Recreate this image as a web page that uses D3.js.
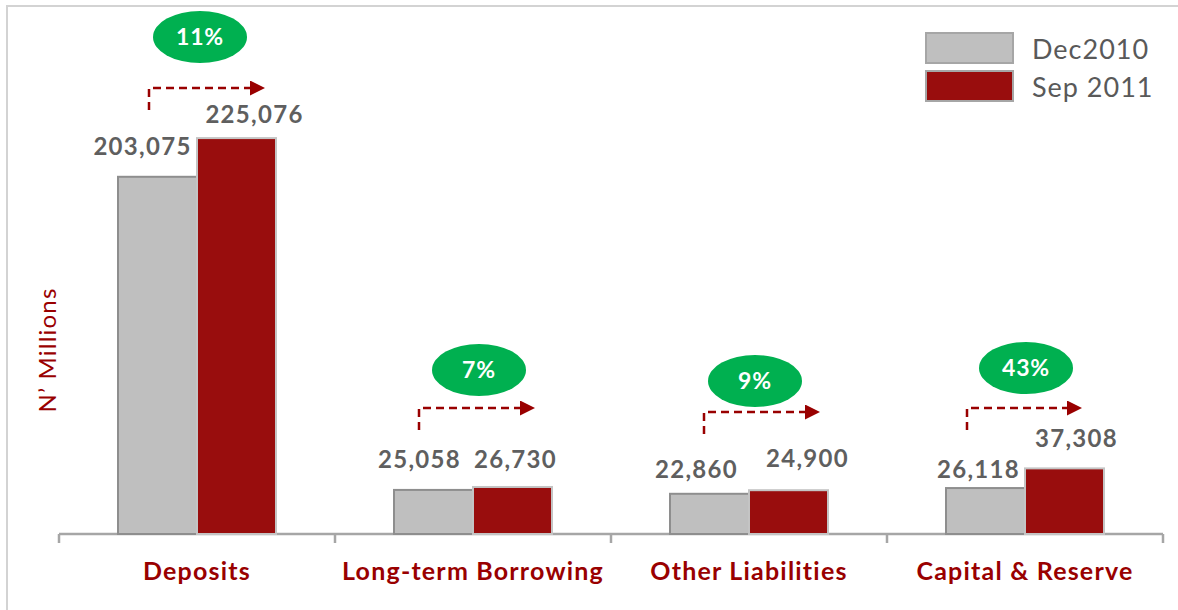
<!DOCTYPE html>
<html>
<head>
<meta charset="utf-8">
<script src="https://cdn.jsdelivr.net/npm/d3@7"></script>
<style>
  body { margin: 0; background: #fff; }
  svg { display: block; }
</style>
</head>
<body>
<div id="chart"></div>
<script>
const width = 1178;
const height = 610;

const categories = ["Deposits", "Long-term Borrowing", "Other Liabilities", "Capital & Reserve"];
const seriesNames = ["Dec2010", "Sep 2011"];
const dec2010 = [203075, 25058, 22860, 26118];
const sep2011 = [225076, 26730, 24900, 37308];
const growthLabels = ["11%", "7%", "9%", "43%"];

// hand placed nudges for labels and call-outs (layout, not data)
const labelNudge = [
  [[-15, -22], [18, -15]],
  [[-14, -22], [3, -19]],
  [[-13, -16], [19, -23]],
  [[-7, -10], [12, -21]],
];
const bubbleY = [37, 370, 381, 368];
const bubbleDx = [3, 6, 6, 1];
const arrowY = [88, 408, 412, 408];
const arrowDx = [[-48, 70], [-54, 64], [-45, 73], [-58, 59]];

const colors = { "Dec2010": "#bfbfbf", "Sep 2011": "#990d0d" };
const outlines = { "Dec2010": "#8e8e8e", "Sep 2011": "#c4c4c4" };

const margin = { left: 59, right: 15, baseline: 534 };

const svg = d3.select("#chart").append("svg")
  .attr("width", width)
  .attr("height", height);

svg.append("defs").append("marker")
  .attr("id", "arrowhead")
  .attr("viewBox", "0 0 10 10")
  .attr("refX", 0)
  .attr("refY", 5)
  .attr("markerWidth", 17)
  .attr("markerHeight", 15)
  .attr("markerUnits", "userSpaceOnUse")
  .attr("orient", "auto")
  .append("path")
  .attr("d", "M0,0 L10,5 L0,10 Z")
  .attr("fill", "#990000");

// frame
svg.append("rect")
  .attr("x", 7).attr("y", 6)
  .attr("width", width + 20).attr("height", height + 20)
  .attr("fill", "none")
  .attr("stroke", "#d3d3d3")
  .attr("stroke-width", 2);

const x0 = d3.scaleBand()
  .domain(categories)
  .range([margin.left, width - margin.right]);

const x1 = d3.scaleBand()
  .domain(seriesNames)
  .range([x0.bandwidth() / 2 - 79, x0.bandwidth() / 2 + 79]);

const y = d3.scaleLinear()
  .domain([0, 250000])
  .range([margin.baseline, margin.baseline - 439.75]);

const rows = categories.map((c, i) => ({
  category: c,
  i,
  values: [
    { series: "Dec2010", value: dec2010[i], k: 0 },
    { series: "Sep 2011", value: sep2011[i], k: 1 },
  ],
}));

// axis line with ticks at band edges
const axisG = svg.append("g")
  .attr("transform", `translate(0,${margin.baseline})`);
axisG.append("line")
  .attr("x1", x0.range()[0]).attr("x2", x0.range()[1])
  .attr("stroke", "#a6a6a6").attr("stroke-width", 2.5);
const edges = categories.map((c) => x0(c)).concat([x0.range()[1]]);
axisG.selectAll(".tick-mark")
  .data(edges)
  .join("line")
  .attr("class", "tick-mark")
  .attr("x1", (d) => d).attr("x2", (d) => d)
  .attr("y1", 0).attr("y2", 9)
  .attr("stroke", "#a6a6a6").attr("stroke-width", 2.5);

axisG.selectAll(".cat-label")
  .data(categories)
  .join("text")
  .attr("class", "cat-label")
  .attr("x", (d) => x0(d) + x0.bandwidth() / 2)
  .attr("y", 46)
  .attr("text-anchor", "middle")
  .attr("font-family", "Lato, sans-serif")
  .attr("font-weight", 700)
  .attr("font-size", 25)
  .attr("letter-spacing", 1.2)
  .attr("fill", "#990000")
  .text((d) => d);

// bars
const groups = svg.selectAll(".cat")
  .data(rows)
  .join("g")
  .attr("class", "cat")
  .attr("transform", (d) => `translate(${x0(d.category)},0)`);

groups.selectAll("rect")
  .data((d) => d.values)
  .join("rect")
  .attr("x", (d) => x1(d.series))
  .attr("y", (d) => y(d.value))
  .attr("width", x1.bandwidth())
  .attr("height", (d) => y(0) - y(d.value))
  .attr("fill", (d) => colors[d.series])
  .attr("stroke", (d) => outlines[d.series])
  .attr("stroke-width", 2);

groups.selectAll(".val")
  .data((d) => d.values.map((v) => ({ ...v, i: d.i })))
  .join("text")
  .attr("class", "val")
  .attr("x", (d) => x1(d.series) + x1.bandwidth() / 2 + labelNudge[d.i][d.k][0])
  .attr("y", (d) => y(d.value) + labelNudge[d.i][d.k][1])
  .attr("text-anchor", "middle")
  .attr("font-family", "Lato, sans-serif")
  .attr("font-weight", 700)
  .attr("font-size", 24)
  .attr("letter-spacing", 1.3)
  .attr("fill", "#5f5f5f")
  .text((d) => d3.format(",")(d.value));

// growth call-outs
groups.append("path")
  .attr("d", (d) => {
    const c = x0.bandwidth() / 2;
    const ay = arrowY[d.i];
    return `M${c + arrowDx[d.i][0]},${ay + 22} V${ay} H${c + arrowDx[d.i][1] - 17}`;
  })
  .attr("fill", "none")
  .attr("stroke", "#990000")
  .attr("stroke-width", 2.5)
  .attr("stroke-dasharray", "8 5")
  .attr("marker-end", "url(#arrowhead)");

groups.append("ellipse")
  .attr("cx", (d) => x0.bandwidth() / 2 + bubbleDx[d.i])
  .attr("cy", (d) => bubbleY[d.i])
  .attr("rx", 47)
  .attr("ry", 26)
  .attr("fill", "#00b050");

groups.append("text")
  .attr("x", (d) => x0.bandwidth() / 2 + bubbleDx[d.i])
  .attr("y", (d) => bubbleY[d.i] + 8)
  .attr("text-anchor", "middle")
  .attr("font-family", "Lato, sans-serif")
  .attr("font-weight", 700)
  .attr("font-size", 23)
  .attr("letter-spacing", 0.8)
  .attr("fill", "#ffffff")
  .text((d) => growthLabels[d.i]);

// y axis title
svg.append("text")
  .attr("transform", "translate(56,350) rotate(-90)")
  .attr("text-anchor", "middle")
  .attr("font-family", "Lato, sans-serif")
  .attr("font-size", 24)
  .attr("letter-spacing", 1.2)
  .attr("fill", "#990000")
  .text("N\u2019 Millions");

// legend
const legend = svg.append("g").attr("transform", "translate(926,33)");
const legendItems = legend.selectAll("g")
  .data(seriesNames)
  .join("g")
  .attr("transform", (d, i) => `translate(0,${i * 38})`);
legendItems.append("rect")
  .attr("width", 87).attr("height", 30)
  .attr("fill", (d) => colors[d])
  .attr("stroke", "#a6a6a6")
  .attr("stroke-width", 2);
legendItems.append("text")
  .attr("x", 106)
  .attr("y", 26)
  .attr("font-family", "Lato, sans-serif")
  .attr("font-size", 27)
  .attr("letter-spacing", 1)
  .attr("fill", "#595959")
  .text((d) => d);
</script>
</body>
</html>
